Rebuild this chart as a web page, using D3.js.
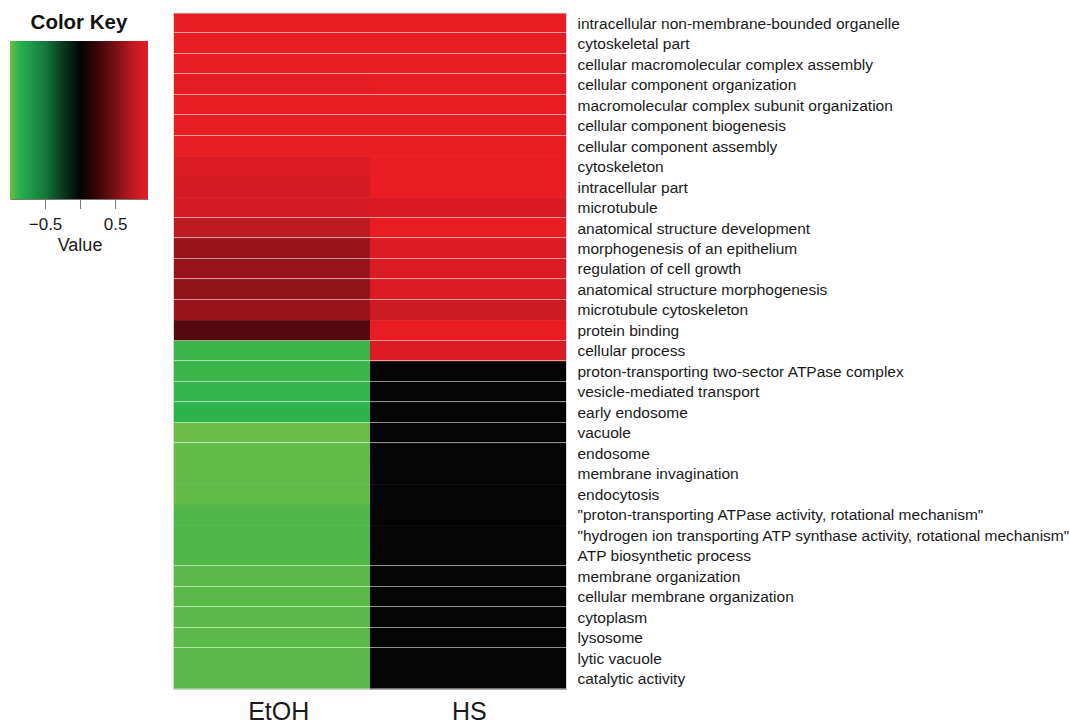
<!DOCTYPE html>
<html>
<head>
<meta charset="utf-8">
<script src="https://cdn.jsdelivr.net/npm/d3@7/dist/d3.min.js"></script>
<style>
  html, body { margin: 0; padding: 0; background: #fff; }
  svg { display: block; font-family: "Liberation Sans", Arial, sans-serif; }
</style>
</head>
<body>
<svg id="chart"></svg>
<script>
// GO terms (rows, top to bottom)
const terms = [
  'intracellular non-membrane-bounded organelle',
  'cytoskeletal part',
  'cellular macromolecular complex assembly',
  'cellular component organization',
  'macromolecular complex subunit organization',
  'cellular component biogenesis',
  'cellular component assembly',
  'cytoskeleton',
  'intracellular part',
  'microtubule',
  'anatomical structure development',
  'morphogenesis of an epithelium',
  'regulation of cell growth',
  'anatomical structure morphogenesis',
  'microtubule cytoskeleton',
  'protein binding',
  'cellular process',
  'proton-transporting two-sector ATPase complex',
  'vesicle-mediated transport',
  'early endosome',
  'vacuole',
  'endosome',
  'membrane invagination',
  'endocytosis',
  '"proton-transporting ATPase activity, rotational mechanism"',
  '"hydrogen ion transporting ATP synthase activity, rotational mechanism"',
  'ATP biosynthetic process',
  'membrane organization',
  'cellular membrane organization',
  'cytoplasm',
  'lysosome',
  'lytic vacuole',
  'catalytic activity'
];

const conditions = ['EtOH', 'HS'];

const etohValues = [
  0.98, 0.98, 0.98, 0.95, 0.98, 0.98, 0.98, 0.90, 0.86, 0.86,
  0.75, 0.60, 0.60, 0.59, 0.61, 0.35, -0.90, -0.90, -0.88, -0.87,
  -1.00, -0.98, -0.98, -0.98, -0.94, -0.94, -0.94, -0.96, -0.96, -0.96,
  -0.96, -0.96, -0.96
];

const hsValues = [
  0.98, 0.98, 0.98, 0.98, 0.98, 0.98, 0.98, 0.98, 0.98, 0.89,
  0.98, 0.90, 0.90, 0.90, 0.82, 0.98, 0.90, 0.00, 0.00, 0.00,
  0.00, 0.00, 0.00, 0.00, 0.00, 0.00, 0.00, 0.00, 0.00, 0.00,
  0.00, 0.00, 0.00
];

// rows that start with a thin separator line
const sepBefore = [1, 2, 3, 4, 5, 6, 10, 11, 12, 13, 14, 16, 17, 18, 19, 20, 21, 27, 28, 29, 30, 31];

// colour key
const keyDomain = [-1, 0.97];
const keyTicks = [-0.5, 0, 0.5];
const keyTickLabels = ['\u22120.5', '', '0.5'];
const colorStops = [-1, -0.85, -0.5, -0.25, 0, 0.25, 0.5, 0.75, 1];
const colorRange = ['#6cbd45', '#23b14d', '#137a3c', '#0b3a1f', '#040404',
                    '#3c0508', '#781014', '#be1a22', '#ed1c24'];

const width = 1069, height = 724;
const svg = d3.select('#chart').attr('width', width).attr('height', height);

const color = d3.scaleLinear().domain(colorStops).range(colorRange).clamp(true);

const x = d3.scaleBand().domain(conditions).range([173.5, 566.5]);
const y = d3.scaleBand().domain(terms).range([13, 689]);

const cells = [];
terms.forEach((t, i) => {
  cells.push({ term: t, cond: 'EtOH', v: etohValues[i] });
  cells.push({ term: t, cond: 'HS', v: hsValues[i] });
});

const hm = svg.append('g');
hm.selectAll('rect.cell')
  .data(cells)
  .join('rect')
  .attr('class', 'cell')
  .attr('x', d => x(d.cond))
  .attr('y', d => y(d.term))
  .attr('width', x.bandwidth() + 0.5)
  .attr('height', y.bandwidth() + 0.5)
  .attr('fill', d => color(d.v));

// separators
hm.selectAll('line.sep')
  .data(sepBefore)
  .join('line')
  .attr('class', 'sep')
  .attr('x1', x.range()[0])
  .attr('x2', x.range()[1])
  .attr('y1', i => Math.round(y(terms[i])) - 0.5)
  .attr('y2', i => Math.round(y(terms[i])) - 0.5)
  .attr('stroke', '#fff')
  .attr('stroke-opacity', 0.55)
  .attr('stroke-width', 1);

// outline
hm.append('rect')
  .attr('x', x.range()[0])
  .attr('y', y.range()[0])
  .attr('width', x.range()[1] - x.range()[0])
  .attr('height', y.range()[1] - y.range()[0])
  .attr('fill', 'none')
  .attr('stroke', '#d8d8d8')
  .attr('stroke-width', 1);

// row labels
svg.append('g')
  .selectAll('text')
  .data(terms)
  .join('text')
  .attr('x', x.range()[1] + 11)
  .attr('y', d => y(d) + y.bandwidth() / 2)
  .attr('dy', '0.35em')
  .attr('font-size', '15.5px')
  .attr('fill', '#1a1a1a')
  .text(d => d);

// column labels (EtOH sits a little right of its column centre in the original)
const colLabelShift = { EtOH: 7, HS: 1 };
svg.append('g')
  .selectAll('text')
  .data(conditions)
  .join('text')
  .attr('x', d => x(d) + x.bandwidth() / 2 + colLabelShift[d])
  .attr('y', 720)
  .attr('text-anchor', 'middle')
  .attr('font-size', '25px')
  .attr('fill', '#1a1a1a')
  .text(d => d);

// colour key
const kx = d3.scaleLinear().domain(keyDomain).range([10, 148]);
const keyTop = 41, keyBottom = 199;

const grad = svg.append('defs').append('linearGradient')
  .attr('id', 'keygrad')
  .attr('x1', '0%').attr('x2', '100%').attr('y1', '0%').attr('y2', '0%');
d3.range(0, 1.0001, 0.02).forEach(t => {
  const v = keyDomain[0] + t * (keyDomain[1] - keyDomain[0]);
  grad.append('stop').attr('offset', `${t * 100}%`).attr('stop-color', color(v));
});

const key = svg.append('g');
key.append('text')
  .attr('x', 79)
  .attr('y', 29)
  .attr('text-anchor', 'middle')
  .attr('font-size', '20.5px')
  .attr('font-weight', 'bold')
  .attr('fill', '#111')
  .text('Color Key');

key.append('rect')
  .attr('x', kx.range()[0])
  .attr('y', keyTop)
  .attr('width', kx.range()[1] - kx.range()[0])
  .attr('height', keyBottom - keyTop)
  .attr('fill', 'url(#keygrad)');

const keyAxis = key.append('g')
  .attr('transform', `translate(0, ${keyBottom})`)
  .call(d3.axisBottom(kx).tickValues(keyTicks).tickSize(10).tickSizeOuter(0)
    .tickFormat((d, i) => keyTickLabels[i]));
keyAxis.select('.domain').attr('stroke', '#777');
keyAxis.selectAll('.tick line').attr('stroke', '#777');
keyAxis.selectAll('.tick text')
  .attr('font-size', '17px')
  .attr('font-family', '"Liberation Sans", Arial, sans-serif')
  .attr('fill', '#1a1a1a')
  .attr('dy', '1.05em');

key.append('text')
  .attr('x', kx(0))
  .attr('y', 251)
  .attr('text-anchor', 'middle')
  .attr('font-size', '18px')
  .attr('fill', '#1a1a1a')
  .text('Value');
</script>
</body>
</html>
